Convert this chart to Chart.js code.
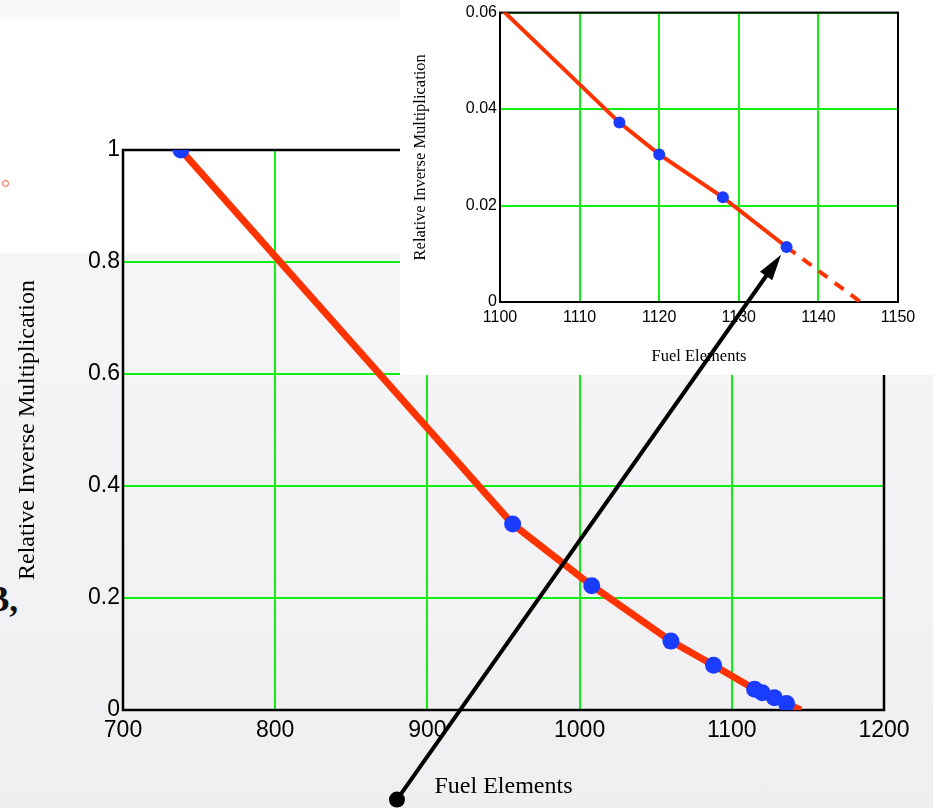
<!DOCTYPE html>
<html>
<head>
<meta charset="utf-8">
<script src="https://cdn.jsdelivr.net/npm/chart.js@4.4.0/dist/chart.umd.min.js"></script>
<style>
  html, body { margin: 0; padding: 0; }
  body {
    width: 933px; height: 808px; position: relative; overflow: hidden;
    background: linear-gradient(#f7f7f9 0px, #f4f4f6 420px, #f1f1f3 650px, #efeff1 808px);
  }
  #band { position: absolute; left: 0; top: 0; width: 933px; height: 19px; background: #f9f9f9; }
  #paper { position: absolute; left: 0; top: 19px; width: 400px; height: 234px; background: #fff; }
  #mark { position: absolute; left: 2px; top: 180px; width: 5px; height: 5px; border: 1px solid #ff5533; border-radius: 50%; }
  #letter { position: absolute; left: -14px; top: 580px; font: bold 35px "Liberation Serif", serif; color: #111; }
  canvas { position: absolute; }
  #main { left: 0; top: 0; }
  #inset { left: 400px; top: 0; background: #fff; }
  #overlay { left: 0; top: 0; pointer-events: none; }
</style>
</head>
<body>
<div id="band"></div>
<div id="paper"></div>
<div id="mark"></div>
<div id="letter">B,</div>
<canvas id="main" width="933" height="808"></canvas>
<canvas id="inset" width="533" height="375"></canvas>
<canvas id="overlay" width="933" height="808"></canvas>
<script>
// measured points: fuel elements loaded vs relative inverse multiplication
const fuelElements = [738, 956, 1008, 1060, 1088, 1115, 1120, 1128, 1136];
const inverseMult = [1.0, 0.332, 0.222, 0.123, 0.080, 0.0372, 0.0306, 0.0217, 0.0114];
// extrapolated zero crossing of the curve
const critFuel = [1145.3];
const critMult = [0];

const mainXTicks = [700, 800, 900, 1000, 1100, 1200];
const mainYTicks = [0, 0.2, 0.4, 0.6, 0.8, 1];
const insetXTicks = [1100, 1110, 1120, 1130, 1140, 1150];
const insetYTicks = [0, 0.02, 0.04, 0.06];

const RED = '#ff3300';
const BLUE = '#1a3cff';
const GREEN = '#11ee11';

const points = fuelElements.map((x, i) => ({ x, y: inverseMult[i] }));
const curve = points.concat(critFuel.map((x, i) => ({ x, y: critMult[i] })));

// black box round the plot area
const frame = {
  id: 'frame',
  beforeDatasetsDraw(chart, args, opts) {
    const { ctx, chartArea: a } = chart;
    ctx.save();
    ctx.strokeStyle = '#000';
    ctx.lineWidth = opts.width;
    ctx.strokeRect(a.left, a.top, a.right - a.left, a.bottom - a.top);
    ctx.restore();
  }
};

function axis(ticks, o) {
  return {
    type: 'linear',
    min: ticks[0],
    max: ticks[ticks.length - 1],
    afterBuildTicks: s => { s.ticks = ticks.map(v => ({ value: v })); },
    afterFit: s => { if (o.width) s.width = o.width; if (o.height) s.height = o.height; },
    grid: { color: GREEN, lineWidth: 2, drawTicks: false },
    border: { display: false },
    ticks: {
      autoSkip: false, maxRotation: 0, color: '#000', padding: o.pad,
      font: { family: 'Liberation Sans', size: o.tickSize },
      callback: v => String(v)
    },
    title: {
      display: true, text: o.title, color: '#000',
      font: { family: 'Liberation Serif', size: o.titleSize },
      padding: o.titlePad
    }
  };
}

const mainChart = new Chart(document.getElementById('main'), {
  type: 'scatter',
  data: {
    datasets: [{
      data: points,
      pointRadius: 8.5,
      pointBackgroundColor: BLUE,
      pointBorderWidth: 0,
      showLine: false,
      clip: 0
    }, {
      data: curve,
      showLine: true,
      borderColor: RED,
      borderWidth: 7,
      pointRadius: 0,
      clip: 0
    }]
  },
  options: {
    responsive: false,
    animation: false,
    events: [],
    layout: { padding: { top: 150, right: 49, left: 0, bottom: 0 } },
    plugins: { legend: { display: false }, tooltip: { enabled: false }, frame: { width: 2.5 } },
    scales: {
      x: axis(mainXTicks, { height: 98, pad: 7, tickSize: 23, title: 'Fuel Elements', titleSize: 24, titlePad: { top: 0, bottom: 7 } }),
      y: axis(mainYTicks, { width: 123, pad: 3, tickSize: 23, title: 'Relative Inverse Multiplication', titleSize: 24, titlePad: { top: 13, bottom: 0 } })
    }
  },
  plugins: [frame]
});

const lastIdx = fuelElements.length - 1;

const insetChart = new Chart(document.getElementById('inset'), {
  type: 'scatter',
  data: {
    datasets: [{
      data: points,
      pointRadius: 6,
      pointBackgroundColor: BLUE,
      pointBorderWidth: 0,
      showLine: false,
      clip: 0
    }, {
      data: curve,
      showLine: true,
      borderColor: RED,
      borderWidth: 4,
      pointRadius: 0,
      clip: 0,
      // dashed past the last measured point
      segment: { borderDash: c => (c.p0DataIndex >= lastIdx ? [11, 9] : undefined) }
    }]
  },
  options: {
    responsive: false,
    animation: false,
    events: [],
    layout: { padding: { top: 12, right: 35, left: 0, bottom: 0 } },
    plugins: { legend: { display: false }, tooltip: { enabled: false }, frame: { width: 2 } },
    scales: {
      x: axis(insetXTicks, { height: 73, pad: 6, tickSize: 16, title: 'Fuel Elements', titleSize: 16.5, titlePad: { top: 0, bottom: 8 } }),
      y: axis(insetYTicks, { width: 100, pad: 3, tickSize: 16, title: 'Relative Inverse Multiplication', titleSize: 16.5, titlePad: { top: 11, bottom: 0 } })
    }
  },
  plugins: [frame]
});

// pointer from below the main axis up to the last point of the close-up
function drawPointer() {
  const ctx = document.getElementById('overlay').getContext('2d');
  const insetEl = document.getElementById('inset');
  const from = {
    x: mainChart.scales.x.getPixelForValue(880),
    y: mainChart.scales.y.getPixelForValue(-0.16)
  };
  const target = {
    x: insetEl.offsetLeft + insetChart.scales.x.getPixelForValue(fuelElements[lastIdx]),
    y: insetEl.offsetTop + insetChart.scales.y.getPixelForValue(inverseMult[lastIdx])
  };
  const dx = target.x - from.x, dy = target.y - from.y;
  const len = Math.hypot(dx, dy);
  const ux = dx / len, uy = dy / len;
  const tip = { x: target.x - ux * 9.5, y: target.y - uy * 9.5 };
  const headLen = 26, headHalf = 7.5;
  const base = { x: tip.x - ux * headLen, y: tip.y - uy * headLen };

  ctx.save();
  ctx.strokeStyle = '#000';
  ctx.fillStyle = '#000';
  ctx.lineWidth = 4;
  ctx.beginPath();
  ctx.moveTo(from.x, from.y);
  ctx.lineTo(base.x + ux * 4, base.y + uy * 4);
  ctx.stroke();

  ctx.beginPath();
  ctx.moveTo(tip.x, tip.y);
  ctx.lineTo(base.x - uy * headHalf, base.y + ux * headHalf);
  ctx.lineTo(base.x + uy * headHalf, base.y - ux * headHalf);
  ctx.closePath();
  ctx.fill();

  ctx.beginPath();
  ctx.arc(from.x, from.y, 8, 0, Math.PI * 2);
  ctx.fill();
  ctx.restore();
}
drawPointer();
</script>
</body>
</html>
